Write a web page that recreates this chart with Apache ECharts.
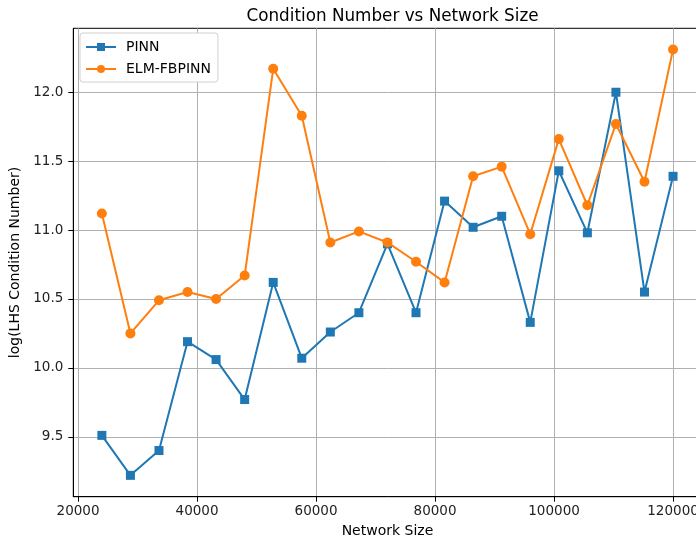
<!DOCTYPE html>
<html><head><meta charset="utf-8">
<script src="https://cdn.jsdelivr.net/npm/echarts@6/dist/echarts.min.js"></script>
<style>html,body{margin:0;padding:0;background:#fff;overflow:hidden}#c{width:712px;height:546px}</style>
</head><body><div id="c"></div>
<script>
const networkSizes = [24000, 28800, 33600, 38400, 43200, 48000, 52800, 57600, 62400, 67200, 72000, 76800, 81600, 86400, 91200, 96000, 100800, 105600, 110400, 115200, 120000];
const pinn = [9.51, 9.22, 9.40, 10.19, 10.06, 9.77, 10.62, 10.07, 10.26, 10.40, 10.90, 10.40, 11.21, 11.02, 11.10, 10.33, 11.43, 10.98, 12.00, 10.55, 11.39];
const elm = [11.12, 10.25, 10.49, 10.55, 10.50, 10.67, 12.17, 11.83, 10.91, 10.99, 10.91, 10.77, 10.62, 11.39, 11.46, 10.97, 11.66, 11.18, 11.77, 11.35, 12.31];
const xTicks = [20000, 40000, 60000, 80000, 100000, 120000];
const yTicks = [9.5, 10.0, 10.5, 11.0, 11.5, 12.0];

const font = 'DejaVu Sans';
const chart = echarts.init(document.getElementById('c'), null, {renderer: 'canvas'});
chart.setOption({
  animation: false,
  backgroundColor: '#fff',
  title: {
    text: 'Condition Number vs Network Size',
    left: 387.5, top: 3, textAlign: 'center',
    textStyle: {fontFamily: font, fontSize: 16.8, fontWeight: 'normal', color: '#000'}
  },
  legend: {
    left: 80, top: 33, orient: 'vertical',
    backgroundColor: '#fff', borderColor: '#d0d0d0', borderWidth: 1, borderRadius: 3,
    padding: [7, 7, 6, 5], itemGap: 8, itemWidth: 30, itemHeight: 10,
    textStyle: {fontFamily: font, fontSize: 14, color: '#000', padding: [0, 0, 0, 5]},
    data: ['PINN', 'ELM-FBPINN']
  },
  grid: {show: true, borderColor: '#000', borderWidth: 1, backgroundColor: 'transparent',
    left: 73.3, top: 28.3, width: 628.3, bottom: 49.3, containLabel: false},
  xAxis: {
    type: 'value', min: 19200, max: 124800,
    name: 'Network Size', nameLocation: 'middle', nameGap: 28,
    nameTextStyle: {fontFamily: font, fontSize: 14, color: '#000'},
    axisLine: {show: true, onZero: false, lineStyle: {color: '#000', width: 1}},
    axisTick: {show: true, length: 5, customValues: xTicks, lineStyle: {color: '#000'}},
    axisLabel: {customValues: xTicks, margin: 8, fontFamily: font, fontSize: 13.5, color: '#222',
      formatter: v => String(v)},
    splitLine: {show: true, lineStyle: {color: '#b0b0b0', width: 1}}
  },
  yAxis: {
    type: 'value', min: 9.065, max: 12.464,
    name: 'log(LHS Condition Number)', nameLocation: 'middle', nameGap: 45,
    nameTextStyle: {fontFamily: font, fontSize: 14, color: '#000'},
    axisLine: {show: true, onZero: false, lineStyle: {color: '#000', width: 1}},
    axisTick: {show: true, length: 5, customValues: yTicks, lineStyle: {color: '#000'}},
    axisLabel: {customValues: yTicks, margin: 10, fontFamily: font, fontSize: 13.5, color: '#222',
      formatter: v => v.toFixed(1)},
    splitLine: {show: true, lineStyle: {color: '#b0b0b0', width: 1}}
  },
  series: [
    {name: 'PINN', type: 'line', data: networkSizes.map((x, i) => [x, pinn[i]]),
     symbol: 'rect', symbolSize: 9, color: '#1f77b4',
     lineStyle: {width: 2, color: '#1f77b4'}, itemStyle: {color: '#1f77b4'}, z: 3},
    {name: 'ELM-FBPINN', type: 'line', data: networkSizes.map((x, i) => [x, elm[i]]),
     symbol: 'circle', symbolSize: 10, color: '#ff7f0e',
     lineStyle: {width: 2, color: '#ff7f0e'}, itemStyle: {color: '#ff7f0e'}, z: 4}
  ]
});
</script></body></html>
